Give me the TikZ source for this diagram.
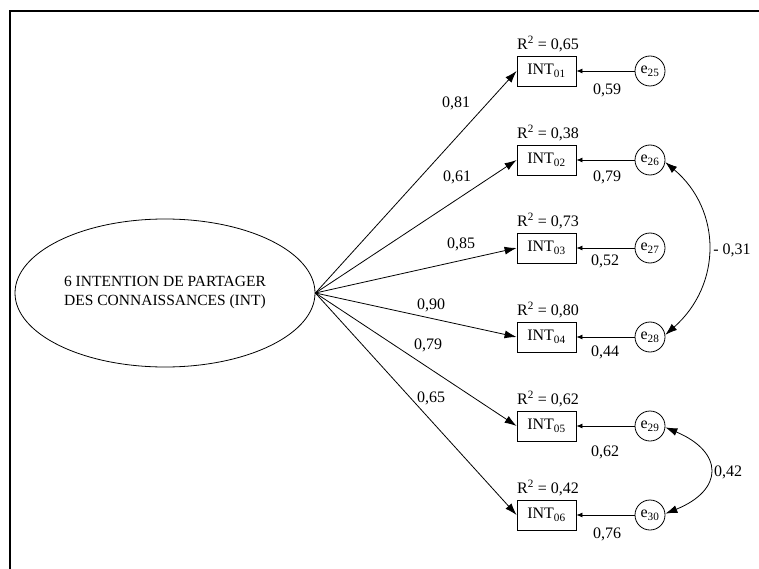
\documentclass[tikz,border=0pt]{standalone}
\usepackage{fontspec}
\setmainfont{Liberation Serif}
\usetikzlibrary{arrows.meta,shapes.geometric}
\begin{document}
\begin{tikzpicture}[x=1pt,y=-1pt,
  every node/.style={font=\fontsize{16}{19}\selectfont, inner sep=0pt},
  ind/.style={draw, minimum width=59pt, minimum height=30pt, line width=0.8pt},
  err/.style={draw, circle, minimum size=30pt, line width=0.8pt},
  load/.style={line width=0.8pt, -{Latex[length=12pt,width=8pt]}},
  eload/.style={line width=0.8pt, -{Latex[length=6pt,width=5pt]}},
  cov/.style={line width=0.8pt, {Latex[length=12pt,width=8pt]}-{Latex[length=12pt,width=8pt]}}]
\useasboundingbox (0,0) rectangle (759,569);
% frame
\draw[line width=2pt, line join=miter] (10,580) -- (10,11) -- (770,11);

% latent construct
\node[draw, ellipse, minimum width=300pt, minimum height=148pt, line width=0.8pt,
      align=center, font=\fontsize{15.5}{19}\selectfont] (lat) at (165,293)
      {6 INTENTION DE PARTAGER\\DES CONNAISSANCES (INT)};

% indicators, error terms and R-squared
\foreach \i/\y/\e/\r in {01/71/25/{0,65}, 02/160/26/{0,38}, 03/248/27/{0,73},
                         04/337/28/{0,80}, 05/426/29/{0,62}, 06/515/30/{0,42}}{
  \node[ind] (i\i) at (546.5,\y) {INT\textsubscript{\i}};
  \node[err] (e\e) at (650,\y) {e\textsubscript{\e}};
  \node (r\i) at (548,\y-27) {R\textsuperscript{2} = \r};
  \draw[eload] (e\e) -- (i\i);
  \draw[load] (lat.east) -- (i\i.west);
}

% error loadings
\node (l25) at (607,90) {0,59};
\node (l26) at (607,177) {0,79};
\node (l27) at (605,261) {0,52};
\node (l28) at (605,352) {0,44};
\node (l29) at (605,452) {0,62};
\node (l30) at (607,534) {0,76};

% factor loadings
\node (f1) at (456,103) {0,81};
\node (f2) at (457,177) {0,61};
\node (f3) at (461,244) {0,85};
\node (f4) at (431,305) {0,90};
\node (f5) at (428,345) {0,79};
\node (f6) at (431,398) {0,65};

% error covariances
\draw[cov] (e26.-8) .. controls (722,210) and (722,285) .. (e28.8);
\node (c1) at (732,250) {- 0,31};
\draw[cov] (e29.-5) .. controls (724,452) and (724,490) .. (e30.5);
\node (c2) at (728,472) {0,42};
\end{tikzpicture}
\end{document}
